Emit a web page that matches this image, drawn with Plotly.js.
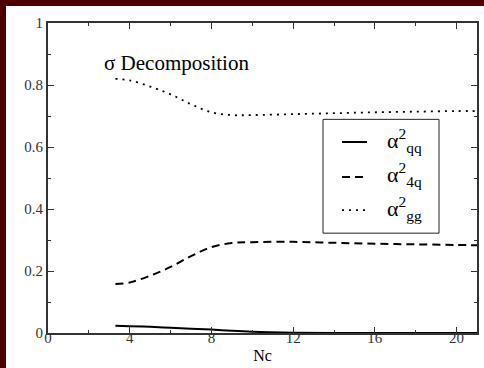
<!DOCTYPE html>
<html>
<head>
<meta charset="utf-8">
<script src="https://cdn.plot.ly/plotly-3.0.1.min.js"></script>
<style>
  html, body { margin: 0; padding: 0; background: #fff; width: 484px; height: 368px; overflow: hidden; }
  #chart { position: absolute; left: 0; top: 0; width: 484px; height: 368px; }
  .strip { position: absolute; background: #4d0000; pointer-events: none; }
</style>
</head>
<body>
<div id="chart"></div>
<div class="strip" style="left:0;top:0;width:484px;height:6px;"></div>
<div class="strip" style="left:0;top:0;width:6px;height:368px;"></div>
<script>
const nc = [3.3, 4, 5, 6, 7, 8, 9, 10, 12, 14, 16, 18, 20, 21];
const alphaQQ = [0.023, 0.022, 0.020, 0.017, 0.014, 0.011, 0.007, 0.004, 0.001, 0.0, 0.0, 0.0, 0.0, 0.0];
const alpha4Q = [0.158, 0.163, 0.185, 0.213, 0.248, 0.277, 0.290, 0.293, 0.294, 0.291, 0.288, 0.286, 0.284, 0.283];
const alphaGG = [0.820, 0.815, 0.795, 0.770, 0.738, 0.712, 0.703, 0.703, 0.706, 0.709, 0.712, 0.714, 0.716, 0.716];
const seriesNames = ['α<sup>2</sup><sub>qq</sub>', 'α<sup>2</sup><sub>4q</sub>', 'α<sup>2</sup><sub>gg</sub>'];
const xTicks = [0, 4, 8, 12, 16, 20];
const yTicks = [0, 0.2, 0.4, 0.6, 0.8, 1];
const yTickText = ['0', '0.2', '0.4', '0.6', '0.8', '1'];

const serif = 'Liberation Serif';
const lineStyles = [
  { color: '#000', width: 2, dash: 'solid' },
  { color: '#000', width: 2, dash: '8px,5px' },
  { color: '#000', width: 1.8, dash: '2px,5px' }
];
const seriesY = [alphaQQ, alpha4Q, alphaGG];
const seriesXAxis = ['x', 'x', 'x2'];

const traces = seriesY.map((ys, i) => ({
  x: nc, y: ys, mode: 'lines', showlegend: false, name: seriesNames[i],
  xaxis: seriesXAxis[i], yaxis: 'y',
  line: Object.assign({ shape: 'spline' }, lineStyles[i])
}));

// plot area in page pixels
const L = 48, R = 477, T = 22.5, B = 333;
const px = X => (X - L) / (R - L);
const py = Y => (B - Y) / (B - T);

const tickFont = { family: serif, size: 15, color: '#333' };
const axisCommon = {
  showline: true, linecolor: '#333', linewidth: 2, mirror: 'ticks',
  ticks: 'inside', ticklen: 6, tickwidth: 1, tickcolor: '#333',
  showgrid: false, zeroline: false, tickfont: tickFont
};

// manual legend box
const entryY = [141.7, 176.7, 210];
const shapes = [
  { type: 'rect', xref: 'paper', yref: 'paper', x0: px(323), x1: px(439), y0: py(233), y1: py(119),
    line: { color: '#222', width: 1 }, fillcolor: '#fff', layer: 'above' }
];
const annotations = [
  { text: 'σ Decomposition', xref: 'x', yref: 'y', x: 2.64, y: py(63),
    xanchor: 'left', yanchor: 'middle', showarrow: false,
    font: { family: serif, size: 21, color: '#000' } }
];
entryY.forEach((Y, i) => {
  shapes.push({ type: 'line', xref: 'paper', yref: 'paper', x0: px(342), x1: px(367), y0: py(Y), y1: py(Y),
    line: lineStyles[i], layer: 'above' });
  annotations.push({ text: seriesNames[i], xref: 'paper', yref: 'paper', x: px(385), y: py(Y - 2),
    xanchor: 'left', yanchor: 'middle', showarrow: false, font: { family: serif, size: 22, color: '#000' } });
});

const layout = {
  width: 484, height: 368,
  margin: { l: L, r: 484 - R, t: T, b: 368 - B },
  paper_bgcolor: '#fff', plot_bgcolor: '#fff',
  showlegend: false,
  xaxis: Object.assign({}, axisCommon, {
    range: [0, 21], tickvals: xTicks, showticklabels: false,
    minor: { dtick: 2, tick0: 0, ticks: 'inside', ticklen: 3, tickcolor: '#333' }
  }),
  // label-only axis, drawn a few pixels higher than the main x axis
  xaxis2: {
    overlaying: 'x', anchor: 'free', position: 6 / (B - T), side: 'bottom',
    range: [0, 21], tickvals: xTicks, ticktext: xTicks.map(String),
    showline: false, ticks: '', showgrid: false, zeroline: false, tickfont: tickFont,
    title: { text: 'Nc', font: { family: serif, size: 16, color: '#000' }, standoff: 4 }
  },
  yaxis: Object.assign({}, axisCommon, {
    range: [0, 1], tickvals: yTicks, ticktext: yTickText,
    minor: { dtick: 0.1, tick0: 0, ticks: 'inside', ticklen: 3, tickcolor: '#333' }
  }),
  shapes: shapes,
  annotations: annotations
};

Plotly.newPlot('chart', traces, layout, { displayModeBar: false });
</script>
</body>
</html>
